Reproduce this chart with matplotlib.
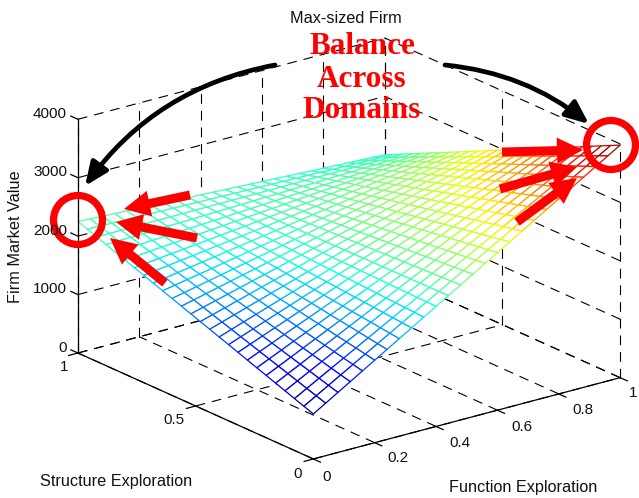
#firm market value surface with hand annotations
import numpy as np
import matplotlib
matplotlib.use("Agg")
import matplotlib.pyplot as plt
from matplotlib.patches import FancyArrow, FancyArrowPatch, Circle

plt.rcParams['font.family'] = ['Liberation Sans', 'DejaVu Sans']
plt.rcParams['lines.scale_dashes'] = False

function_explore = [0, .04, .08, .12, .16, .2, .24, .28, .32, .36, .4, .44, .48, .52, .56, .6, .64, .68, .72, .76, .8, .84, .88, .92, .96, 1]
structure_explore = [0, .04, .08, .12, .16, .2, .24, .28, .32, .36, .4, .44, .48, .52, .56, .6, .64, .68, .72, .76, .8, .84, .88, .92, .96, 1]

#one row per structure value
firm_value = [
 [770,898,1027,1155,1284,1412,1540,1669,1797,1926,2054,2182,2311,2439,2568,2696,2824,2953,3081,3210,3338,3466,3595,3723,3852,3980],
 [829,952,1075,1198,1321,1443,1566,1689,1812,1935,2058,2181,2303,2426,2549,2672,2795,2918,3041,3163,3286,3409,3532,3655,3778,3901],
 [888,1005,1123,1240,1357,1475,1592,1709,1827,1944,2061,2179,2296,2413,2531,2648,2765,2883,3000,3117,3235,3352,3469,3587,3704,3822],
 [948,1060,1172,1283,1395,1507,1619,1731,1842,1954,2066,2178,2290,2401,2513,2625,2737,2849,2960,3072,3184,3296,3408,3519,3631,3743],
 [1007,1113,1220,1326,1432,1538,1645,1751,1857,1963,2070,2176,2282,2388,2495,2601,2707,2813,2920,3026,3132,3238,3345,3451,3557,3663],
 [1066,1167,1267,1368,1469,1570,1670,1771,1872,1972,2073,2174,2275,2375,2476,2577,2677,2778,2879,2980,3080,3181,3282,3382,3483,3584],
 [1125,1220,1315,1411,1506,1601,1696,1791,1886,1982,2077,2172,2267,2362,2458,2553,2648,2743,2838,2933,3029,3124,3219,3314,3409,3505],
 [1184,1274,1363,1453,1543,1632,1722,1812,1901,1991,2081,2170,2260,2349,2439,2529,2618,2708,2798,2887,2977,3067,3156,3246,3336,3426],
 [1244,1328,1412,1496,1580,1665,1749,1833,1917,2001,2085,2169,2253,2337,2421,2505,2590,2674,2758,2842,2926,3010,3094,3178,3262,3346],
 [1303,1382,1460,1539,1617,1696,1775,1853,1932,2010,2089,2168,2246,2325,2403,2482,2561,2639,2718,2796,2875,2954,3032,3111,3189,3268],
 [1362,1435,1508,1581,1654,1727,1800,1873,1946,2019,2092,2165,2238,2311,2385,2458,2531,2604,2677,2750,2823,2896,2969,3042,3115,3188],
 [1421,1489,1556,1624,1691,1759,1826,1894,1961,2029,2096,2164,2231,2299,2366,2434,2501,2569,2636,2704,2771,2839,2906,2974,3041,3109],
 [1480,1542,1604,1666,1728,1790,1852,1914,1976,2038,2100,2162,2224,2286,2348,2410,2472,2534,2596,2658,2719,2781,2843,2905,2967,3030],
 [1540,1596,1653,1709,1766,1822,1878,1935,1991,2048,2104,2160,2217,2273,2330,2386,2442,2499,2555,2612,2668,2724,2781,2837,2894,2950],
 [1599,1650,1701,1752,1803,1854,1904,1955,2006,2057,2108,2159,2210,2261,2312,2363,2413,2464,2515,2566,2617,2668,2719,2770,2821,2871],
 [1658,1703,1749,1794,1839,1885,1930,1975,2020,2066,2111,2156,2202,2247,2292,2338,2383,2428,2473,2519,2564,2609,2655,2700,2745,2791],
 [1717,1757,1797,1836,1876,1916,1956,1996,2035,2075,2115,2155,2195,2234,2274,2314,2354,2394,2433,2473,2513,2553,2593,2632,2672,2712],
 [1776,1810,1844,1879,1913,1947,1981,2015,2050,2084,2118,2152,2186,2221,2255,2289,2323,2357,2392,2426,2460,2494,2528,2563,2597,2631],
 [1836,1865,1893,1922,1951,1979,2008,2037,2065,2094,2123,2152,2180,2209,2238,2266,2295,2324,2352,2381,2410,2439,2467,2496,2525,2553],
 [1895,1918,1941,1965,1988,2011,2034,2057,2081,2104,2127,2150,2173,2197,2220,2243,2266,2289,2313,2336,2359,2382,2405,2429,2452,2475],
 [1954,1972,1989,2007,2025,2043,2060,2078,2096,2113,2131,2149,2166,2184,2202,2220,2237,2255,2273,2290,2308,2326,2343,2361,2379,2397],
 [2013,2025,2037,2049,2061,2074,2086,2098,2110,2122,2134,2146,2158,2170,2182,2195,2207,2219,2231,2243,2255,2267,2279,2291,2303,2316],
 [2072,2079,2085,2092,2098,2105,2112,2118,2125,2131,2138,2145,2151,2158,2164,2171,2178,2184,2191,2197,2204,2211,2217,2224,2230,2237],
 [2132,2133,2134,2135,2136,2138,2139,2140,2141,2142,2143,2144,2145,2146,2147,2149,2150,2151,2152,2153,2154,2155,2156,2157,2158,2159],
 [2191,2187,2182,2178,2173,2169,2164,2160,2155,2151,2146,2142,2137,2133,2128,2124,2119,2115,2110,2106,2101,2097,2092,2088,2083,2079],
 [2250,2240,2230,2220,2210,2200,2190,2180,2170,2160,2150,2140,2130,2120,2110,2100,2090,2080,2070,2060,2050,2040,2030,2020,2010,2000],
]

x_ticks = [0, .2, .4, .6, .8, 1]
y_ticks = [0, .5, 1]
z_ticks = [0, 1000, 2000, 3000, 4000]
x_labels = ['0', '0.2', '0.4', '0.6', '0.8', '1']
y_labels = ['0', '0.5', '1']
z_labels = ['0', '1000', '2000', '3000', '4000']

fig = plt.figure(figsize=(6.39, 4.98), dpi=100)
ax = fig.add_axes([20.9/639, -78.6/498, 1, 639/498], projection='3d', proj_type='ortho')
ax.computed_zorder = False
ax.view_init(elev=20.2, azim=-127.5)
ax.set_box_aspect((1, 1, .644), zoom=.913)
ax.set_axis_off()

dash = dict(color='k', lw=.8, ls=(0, (7, 5)), zorder=1)
solid = dict(color='k', lw=.9, zorder=3)

#walls and floor grid
for x in x_ticks:
    ax.plot([x, x], [0, 1], [0, 0], **dash)
    ax.plot([x, x], [1, 1], [0, 4000], **dash)
    ax.plot([x, x], [0, -.03], [0, 0], **solid)
for y in y_ticks:
    ax.plot([0, 1], [y, y], [0, 0], **dash)
    ax.plot([1, 1], [y, y], [0, 4000], **dash)
    ax.plot([0, -.03], [y, y], [0, 0], **solid)
for z in z_ticks:
    ax.plot([0, 1], [1, 1], [z, z], **dash)
    ax.plot([1, 1], [0, 1], [z, z], **dash)
    ax.plot([0, 0], [1, 1.03], [z, z], **solid)

#front axes
ax.plot([0, 1], [0, 0], [0, 0], **solid)
ax.plot([0, 0], [0, 1], [0, 0], **solid)
ax.plot([0, 0], [1, 1], [0, 4000], **solid)

X, Y = np.meshgrid(function_explore, structure_explore)
Z = np.array(firm_value, dtype=float)
surf = ax.plot_surface(X, Y, Z, rstride=1, cstride=1, color='white', shade=False,
                       edgecolor='k', linewidth=.9, zorder=2)
cell = (Z[:-1, :-1] + Z[1:, :-1] + Z[:-1, 1:] + Z[1:, 1:]) / 4
surf.set_edgecolor(plt.cm.jet((cell.ravel() - Z.min()) / (Z.max() - Z.min())))

ax.set_xlim(0, 1, view_margin=0)
ax.set_ylim(0, 1, view_margin=0)
ax.set_zlim(0, 4000, view_margin=0)

#everything hand drawn on top uses image pixels
top = fig.add_axes([0, 0, 1, 1])
top.set_xlim(0, 639)
top.set_ylim(498, 0)
top.axis('off')

fs = 11
lab_fs = 11.7
for lab, px, py in zip(x_labels, [327, 398, 460, 522, 583, 633], [477, 458, 443, 427, 410, 393]):
    top.text(px, py, lab, fontsize=fs, ha='center', va='center', color='#111111')
for lab, px, py in zip(y_labels, [298, 174, 64], [474, 420, 367]):
    top.text(px, py, lab, fontsize=fs, ha='center', va='center', color='#111111')
for lab, py in zip(z_labels, [348, 289, 231, 172, 114]):
    top.text(67, py, lab, fontsize=fs, ha='right', va='center', color='#111111')

top.text(346, 18, 'Max-sized Firm', fontsize=lab_fs, ha='center', va='center', color='#111111')
top.text(16, 237, 'Firm Market Value', fontsize=lab_fs, rotation=90, ha='center', va='center', color='#111111')
top.text(116, 481, 'Structure Exploration', fontsize=lab_fs, ha='center', va='center', color='#111111')
top.text(523, 487, 'Function Exploration', fontsize=lab_fs, ha='center', va='center', color='#111111')

for word, py in zip(['Balance', 'Across', 'Domains'], [46, 79, 110]):
    top.text(362, py, word, fontsize=22.5, family='Liberation Serif', weight='bold',
             color='red', ha='center', va='center')

#black curved arrows
for a, b, rad in [((275, 65), (85, 186), .2), ((445, 65), (589, 124), -.15)]:
    top.add_patch(FancyArrowPatch(a, b, connectionstyle='arc3,rad=%s' % rad,
                                  arrowstyle='-|>,head_length=14,head_width=6',
                                  mutation_scale=1, lw=3.4, color='k',
                                  shrinkA=0, shrinkB=0))

#red arrows
red_tails = [(190, 195), (197, 238), (165, 283), (502, 152), (500, 189), (517, 222)]
red_tips = [(124, 209), (116, 222), (110, 238), (583, 150), (577, 167), (577, 178)]
for (x0, y0), (x1, y1) in zip(red_tails, red_tips):
    top.add_patch(FancyArrow(x0, y0, x1-x0, y1-y0, width=9, head_width=26, head_length=26,
                             length_includes_head=True, color='red', lw=0))

#circles round the two maxima
for cx, cy in [(78, 220), (611, 145)]:
    top.add_patch(Circle((cx, cy), 24.5, fill=False, ec='red', lw=5.2))

fig.savefig('out.png', dpi=100)
